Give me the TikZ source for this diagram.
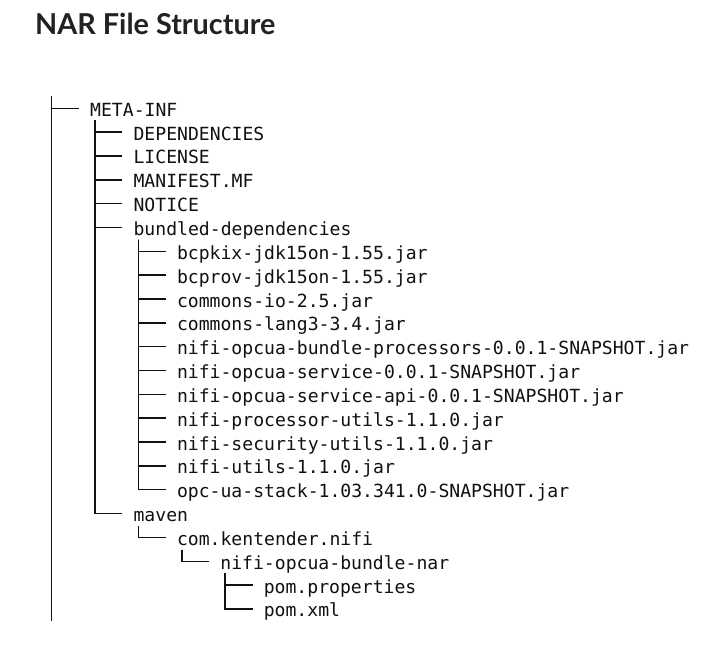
\documentclass[tikz,border=0pt]{standalone}
\usepackage{fontspec}
\setmonofont{DejaVu Sans Mono}
\newfontfamily\headfont{Lato}
\definecolor{ink}{HTML}{111111}
\definecolor{headink}{HTML}{222222}

\begin{document}
\begin{tikzpicture}[x=1pt,y=-1pt,
    entry/.style={anchor=west, inner xsep=11pt, inner ysep=1.92pt,
      text height=18pt, text depth=2pt, text=ink,
      font=\ttfamily\fontsize{18.1}{18.1}\selectfont},
    branch/.style={draw=ink, line width=1.5pt, to path={|- (\tikztotarget.west)}}]
    \path[fill=white,use as bounding box] (0,0) rectangle (722,655);

    \node[anchor=base west, inner sep=0pt, text=headink,
      font=\headfont\bfseries\fontsize{28.8}{28.8}\selectfont] (title) at (35,35) {NAR File Structure};

    \node[entry] (meta) at (79,108.3) {META-INF};
    \node[entry] (deps) at (122.4,132.1) {DEPENDENCIES};
    \node[entry] (license) at (122.4,156.0) {LICENSE};
    \node[entry] (manifest) at (122.4,179.8) {MANIFEST.MF};
    \node[entry] (notice) at (122.4,203.7) {NOTICE};
    \node[entry] (bundled) at (122.4,227.5) {bundled-dependencies};
    \node[entry] (bcpkix) at (165.8,251.3) {bcpkix-jdk15on-1.55.jar};
    \node[entry] (bcprov) at (165.8,275.2) {bcprov-jdk15on-1.55.jar};
    \node[entry] (commonsio) at (165.8,299.0) {commons-io-2.5.jar};
    \node[entry] (commonslang) at (165.8,322.9) {commons-lang3-3.4.jar};
    \node[entry] (bundleproc) at (165.8,346.7) {nifi-opcua-bundle-processors-0.0.1-SNAPSHOT.jar};
    \node[entry] (opcuasvc) at (165.8,370.5) {nifi-opcua-service-0.0.1-SNAPSHOT.jar};
    \node[entry] (opcuaapi) at (165.8,394.4) {nifi-opcua-service-api-0.0.1-SNAPSHOT.jar};
    \node[entry] (procutils) at (165.8,418.2) {nifi-processor-utils-1.1.0.jar};
    \node[entry] (secutils) at (165.8,442.1) {nifi-security-utils-1.1.0.jar};
    \node[entry] (nifiutils) at (165.8,465.9) {nifi-utils-1.1.0.jar};
    \node[entry] (opcstack) at (165.8,489.7) {opc-ua-stack-1.03.341.0-SNAPSHOT.jar};
    \node[entry] (maven) at (122.4,513.6) {maven};
    \node[entry] (kentender) at (165.8,537.4) {com.kentender.nifi};
    \node[entry] (bundlenar) at (209.2,561.3) {nifi-opcua-bundle-nar};
    \node[entry] (pomprops) at (252.6,585.1) {pom.properties};
    \node[entry] (pomxml) at (252.6,608.9) {pom.xml};

    \coordinate (root) at (51.6,96.4);
    \draw[draw=ink, line width=1.5pt] (root) -- (root |- pomxml.south);
    \path (root) edge[branch] (meta);
    \path ([xshift=16pt]meta.south west) edge[branch] (deps)
      edge[branch] (license) edge[branch] (manifest) edge[branch] (notice)
      edge[branch] (bundled) edge[branch] (maven);
    \path ([xshift=16pt]bundled.south west) edge[branch] (bcpkix)
      edge[branch] (bcprov) edge[branch] (commonsio) edge[branch] (commonslang)
      edge[branch] (bundleproc) edge[branch] (opcuasvc) edge[branch] (opcuaapi)
      edge[branch] (procutils) edge[branch] (secutils) edge[branch] (nifiutils)
      edge[branch] (opcstack);
    \path ([xshift=16pt]maven.south west) edge[branch] (kentender);
    \path ([xshift=16pt]kentender.south west) edge[branch] (bundlenar);
    \path ([xshift=16pt]bundlenar.south west) edge[branch] (pomprops)
      edge[branch] (pomxml);
  \end{tikzpicture}
\end{document}
